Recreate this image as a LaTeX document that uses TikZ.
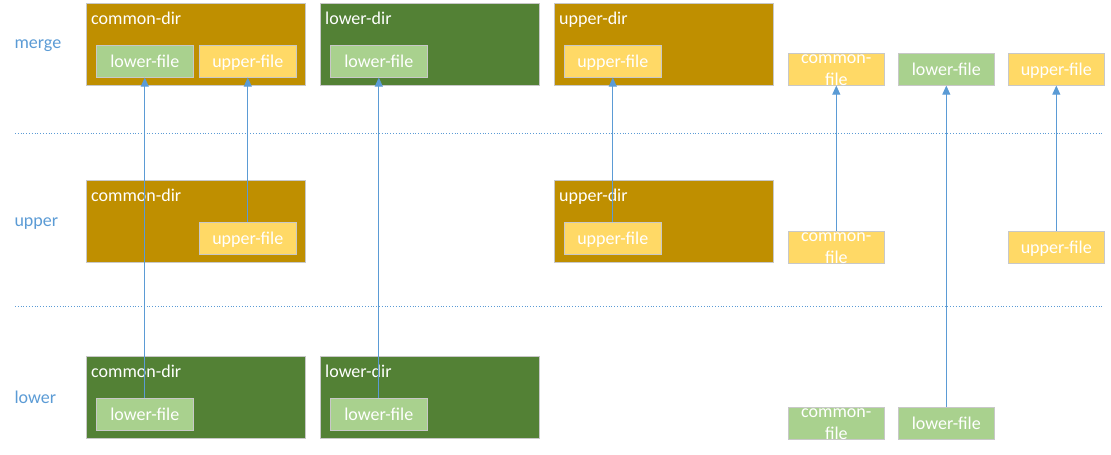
\documentclass[tikz,border=0pt]{standalone}
\usepackage{fontspec}
\setmainfont{Carlito}
\usetikzlibrary{arrows.meta}
\definecolor{dirgold}{HTML}{BF8F00}
\definecolor{dirgreen}{HTML}{538135}
\definecolor{filegreen}{HTML}{A9D18E}
\definecolor{fileyellow}{HTML}{FFD966}
\definecolor{layerblue}{HTML}{5B9BD5}
\definecolor{edgegrey}{HTML}{C8C8C8}
\begin{document}
\begin{tikzpicture}[x=1pt,y=-1pt,
	font=\fontsize{18}{21.5}\selectfont,
	dir/.style={rectangle,draw=edgegrey,line width=0.6pt,anchor=north west,
		minimum width=219pt,minimum height=82pt,inner sep=0pt},
	dirtitle/.style={anchor=north west,inner sep=0pt,xshift=5pt,yshift=-8.5pt,
		text height=12.5pt,text=white},
	file/.style={rectangle,draw=edgegrey,line width=0.6pt,anchor=north west,
		minimum width=97pt,minimum height=32pt,inner sep=0pt,text=white,
		text height=13.5pt,text depth=1.5pt},
	twoline/.style={file,minimum width=96pt,align=center,text height=31.7pt,text depth=0.3pt},
	layer/.style={anchor=base west,text=layerblue},
	sep/.style={dotted,color=layerblue,line width=0.8pt},
	link/.style={color=layerblue,line width=0.8pt,-{Triangle[length=9pt,width=8pt]}}]
	
		\useasboundingbox (0,0) rectangle (1111,455);
		
		\node[layer] (merge) at (11,48) {merge};
		\node[layer] (upper) at (11,226) {upper};
		\node[layer] (lower) at (11,403) {lower};
		
		\coordinate (s1a) at (15,133);
		\coordinate (s1b) at (1103,133);
		\coordinate (s2a) at (15,306);
		\coordinate (s2b) at (1103,306);
		\draw[sep] (s1a) -- (s1b);
		\draw[sep] (s2a) -- (s2b);
		
		% merge
		\node[dir,fill=dirgold,label={[dirtitle]north west:common-dir}] (mcd) at (86,3) {};
		\node[file,fill=filegreen] (mcdl) at (96,45) {lower-file};
		\node[file,fill=fileyellow] (mcdu) at (199,45) {upper-file};
		\node[dir,fill=dirgreen,label={[dirtitle]north west:lower-dir}] (mld) at (320,3) {};
		\node[file,fill=filegreen] (mldl) at (330,45) {lower-file};
		\node[dir,fill=dirgold,label={[dirtitle]north west:upper-dir}] (mud) at (554,3) {};
		\node[file,fill=fileyellow] (mudu) at (564,45) {upper-file};
		\node[twoline,fill=fileyellow] (mcf) at (788,53) {common-\\file};
		\node[file,minimum width=96pt,fill=filegreen] (mlf) at (898,53) {lower-file};
		\node[file,minimum width=96pt,fill=fileyellow] (muf) at (1008,53) {upper-file};
		
		% upper
		\node[dir,fill=dirgold,label={[dirtitle]north west:common-dir}] (ucd) at (86,180) {};
		\node[file,fill=fileyellow] (ucdu) at (199,222) {upper-file};
		\node[dir,fill=dirgold,label={[dirtitle]north west:upper-dir}] (uud) at (554,180) {};
		\node[file,fill=fileyellow] (uudu) at (564,222) {upper-file};
		\node[twoline,fill=fileyellow] (ucf) at (788,231) {common-\\file};
		\node[file,minimum width=96pt,fill=fileyellow] (uuf) at (1008,231) {upper-file};
		
		% lower
		\node[dir,fill=dirgreen,label={[dirtitle]north west:common-dir}] (lcd) at (86,356) {};
		\node[file,fill=filegreen] (lcdl) at (96,398) {lower-file};
		\node[dir,fill=dirgreen,label={[dirtitle]north west:lower-dir}] (lld) at (320,356) {};
		\node[file,fill=filegreen] (lldl) at (330,398) {lower-file};
		\node[twoline,fill=filegreen] (lcf) at (788,407) {common-\\file};
		\node[file,minimum width=96pt,fill=filegreen] (llf) at (898,407) {lower-file};
		
		\path[link] (lcdl) edge (mcdl);
		\path[link] (ucdu) edge (mcdu);
		\path[link] (lldl) edge (mldl);
		\path[link] (uudu) edge (mudu);
		\path[link] (ucf) edge (mcf);
		\path[link] (llf) edge (mlf);
		\path[link] (uuf) edge (muf);
		
	\end{tikzpicture}
\end{document}
